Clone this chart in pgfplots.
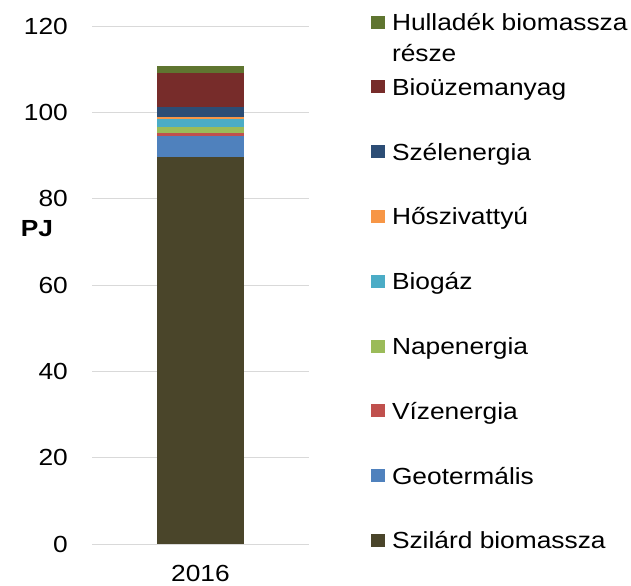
\documentclass[border=0pt]{standalone}
\usepackage{fontspec}
\setmainfont{Liberation Sans}[FakeStretch=1.13]
\usepackage{pgfplots}
\pgfplotsset{compat=1.18}

\definecolor{cSzil}{HTML}{4A452A}
\definecolor{cGeo}{HTML}{4F81BD}
\definecolor{cViz}{HTML}{C0504D}
\definecolor{cNap}{HTML}{9BBB59}
\definecolor{cBiog}{HTML}{4BACC6}
\definecolor{cHosz}{HTML}{F79646}
\definecolor{cSzel}{HTML}{2C4D75}
\definecolor{cBiou}{HTML}{772C2A}
\definecolor{cHull}{HTML}{5F7530}

\newcommand{\chfont}{\fontsize{23.3bp}{31bp}\selectfont}
\pgfplotsset{sqleg/.style={legend image code/.code={\fill[##1] (0bp,2bp) rectangle (14bp,15bp);}}}

\begin{document}
\chfont
\begin{tikzpicture}
\useasboundingbox (0,0) rectangle (631bp,-586bp);
\begin{axis}[
    at={(92bp,-544bp)}, anchor=south west,
    scale only axis,
    width=217bp, height=518bp,
    ybar stacked,
    bar width=87bp,
    xmin=-1, xmax=1,
    ymin=0, ymax=120,
    enlargelimits=false,
    xtick={0}, xticklabels={2016},
    ytick={0,20,...,120},
    ymajorgrids,
    grid style={color=black!15, line width=1bp},
    axis line style={draw=none},
    tick style={draw=none},
    major tick length=0pt,
    /pgf/number format/assume math mode=true,
    tick label style={font=\chfont, inner sep=0pt},
    yticklabel style={anchor=east, xshift=-24bp},
    xticklabel style={anchor=north, yshift=-21.5bp},
    ylabel={\bfseries PJ},
    ylabel style={font=\chfont, rotate=-90, at={(axis description cs:-0.2535,0.608)}, anchor=center, inner sep=0pt},
    reverse legend,
    legend style={draw=none, fill=none, inner sep=0pt, outer sep=0pt,
        row sep=42.8bp, column sep=7bp, font=\chfont,
        at={(axis description cs:1.2857,1.0241)}, anchor=north west,
        cells={anchor=base west},
        nodes={inner sep=0pt, outer sep=0pt, text height=17bp, text depth=5bp}},
]
\addplot[fill=cSzil, draw=none, sqleg] coordinates {(0,89.65)};
\addlegendentry{Szilárd biomassza}
\addplot[fill=cGeo, draw=none, sqleg] coordinates {(0,4.85)};
\addlegendentry{Geotermális}
\addplot[fill=cViz, draw=none, sqleg] coordinates {(0,0.7)};
\addlegendentry{Vízenergia}
\addplot[fill=cNap, draw=none, sqleg] coordinates {(0,1.4)};
\addlegendentry{Napenergia}
\addplot[fill=cBiog, draw=none, sqleg] coordinates {(0,1.95)};
\addlegendentry{Biogáz}
\addplot[fill=cHosz, draw=none, sqleg] coordinates {(0,0.3)};
\addlegendentry{Hőszivattyú}
\addplot[fill=cSzel, draw=none, sqleg] coordinates {(0,2.45)};
\addlegendentry{Szélenergia}
\addplot[fill=cBiou, draw=none, sqleg] coordinates {(0,7.9)};
\addlegendentry{Bioüzemanyag}
\addplot[fill=cHull, draw=none, sqleg] coordinates {(0,1.6)};
\addlegendentry{\parbox[t]{12cm}{Hulladék biomassza\\része}}
\end{axis}
\end{tikzpicture}
\end{document}
